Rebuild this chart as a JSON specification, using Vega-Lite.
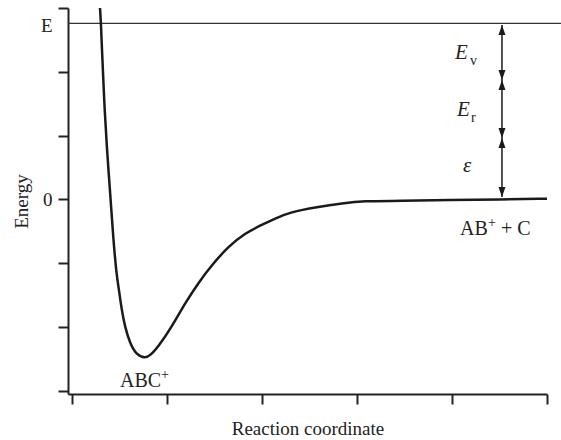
{
  "$schema": "https://vega.github.io/schema/vega-lite/v6.json",
  "width": 479,
  "height": 386,
  "autosize": {"type": "none"},
  "padding": {"left": 68, "top": 8, "right": 14, "bottom": 46},
  "background": "white",
  "config": {
    "view": {"stroke": null},
    "axis": {
      "grid": false,
      "domainColor": "#222",
      "domainWidth": 2,
      "tickColor": "#222",
      "tickWidth": 2,
      "tickSize": 10,
      "labelFont": "Liberation Serif",
      "labelFontSize": 19,
      "labelColor": "#222",
      "titleFont": "Liberation Serif",
      "titleFontSize": 19,
      "titleFontWeight": "normal",
      "titleColor": "#222"
    },
    "text": {"font": "Liberation Serif", "color": "#222"}
  },
  "layer": [
    {
      "data": {"values": [{"x": -0.042, "x2": 5.147, "y": 2.76}]},
      "mark": {"type": "rule", "color": "#333", "strokeWidth": 1.2},
      "encoding": {
        "x": {"field": "x", "type": "quantitative", "scale": {"domain": [-0.042, 5], "nice": false, "zero": false},
          "axis": {"values": [0, 1, 2, 3, 4, 5], "labels": false, "title": "Reaction coordinate", "titlePadding": 14}},
        "x2": {"field": "x2"},
        "y": {"field": "y", "type": "quantitative", "scale": {"domain": [-3.05, 3.0], "nice": false, "zero": false},
          "axis": {
            "values": [-3, -2, -1, 0, 1, 2, 2.72, 3],
            "labelExpr": "datum.value == 0 ? '0' : (datum.value > 2.5 && datum.value < 2.9 ? 'E' : '')",
            "tickColor": {"condition": {"test": "datum.value > 2.5 && datum.value < 2.9", "value": "transparent"}, "value": "#222"},
            "labelPadding": 6,
            "title": "Energy",
            "titlePadding": 9
          }}
      }
    },
    {
      "data": {"values": [
        {"x": 0.295, "y": 3.0},
        {"x": 0.305, "y": 2.76},
        {"x": 0.316, "y": 2.34},
        {"x": 0.337, "y": 1.59},
        {"x": 0.368, "y": 0.77},
        {"x": 0.4, "y": 0.15},
        {"x": 0.435, "y": -0.63},
        {"x": 0.471, "y": -1.21},
        {"x": 0.495, "y": -1.42},
        {"x": 0.523, "y": -1.73},
        {"x": 0.558, "y": -2.0},
        {"x": 0.611, "y": -2.26},
        {"x": 0.681, "y": -2.44},
        {"x": 0.768, "y": -2.49},
        {"x": 0.821, "y": -2.45},
        {"x": 0.908, "y": -2.31},
        {"x": 1.049, "y": -2.0},
        {"x": 1.189, "y": -1.63},
        {"x": 1.329, "y": -1.31},
        {"x": 1.471, "y": -1.03},
        {"x": 1.645, "y": -0.74},
        {"x": 1.821, "y": -0.53},
        {"x": 1.997, "y": -0.4},
        {"x": 2.137, "y": -0.3},
        {"x": 2.295, "y": -0.2},
        {"x": 2.579, "y": -0.12},
        {"x": 2.853, "y": -0.06},
        {"x": 3.063, "y": -0.025},
        {"x": 3.453, "y": -0.025},
        {"x": 3.979, "y": -0.01},
        {"x": 4.505, "y": 0.0},
        {"x": 5.0, "y": 0.01}
      ]},
      "mark": {"type": "line", "color": "#1a1a1a", "strokeWidth": 2.5, "interpolate": "basis"},
      "encoding": {
        "x": {"field": "x", "type": "quantitative"},
        "y": {"field": "y", "type": "quantitative"}
      }
    },
    {
      "data": {"values": [{"x": 4.526, "y": 2.733, "y2": 0.038}]},
      "mark": {"type": "rule", "color": "#1a1a1a", "strokeWidth": 1.5},
      "encoding": {
        "x": {"field": "x", "type": "quantitative"},
        "y": {"field": "y", "type": "quantitative"},
        "y2": {"field": "y2"}
      }
    },
    {
      "data": {"values": [{"x": 4.526, "y": 2.733}, {"x": 4.526, "y": 1.871}, {"x": 4.526, "y": 0.962}]},
      "mark": {"type": "point", "filled": true, "color": "#1a1a1a", "opacity": 1, "size": 400, "strokeWidth": 0, "shape": "M0,0L0.35,1L-0.35,1Z"},
      "encoding": {
        "x": {"field": "x", "type": "quantitative"},
        "y": {"field": "y", "type": "quantitative"}
      }
    },
    {
      "data": {"values": [{"x": 4.526, "y": 1.871}, {"x": 4.526, "y": 0.962}, {"x": 4.526, "y": 0.038}]},
      "mark": {"type": "point", "filled": true, "color": "#1a1a1a", "opacity": 1, "size": 400, "strokeWidth": 0, "shape": "M0,0L0.35,-1L-0.35,-1Z"},
      "encoding": {
        "x": {"field": "x", "type": "quantitative"},
        "y": {"field": "y", "type": "quantitative"}
      }
    },
    {
      "data": {"values": [
        {"x": 0.505, "y": -2.94, "t": "ABC"},
        {"x": 4.084, "y": -0.558, "t": "AB"},
        {"x": 4.515, "y": -0.558, "t": "+ C"}
      ]},
      "mark": {"type": "text", "fontSize": 20, "align": "left", "baseline": "alphabetic"},
      "encoding": {
        "x": {"field": "x", "type": "quantitative"},
        "y": {"field": "y", "type": "quantitative"},
        "text": {"field": "t"}
      }
    },
    {
      "data": {"values": [
        {"x": 0.937, "y": -2.81, "t": "+"},
        {"x": 4.379, "y": -0.43, "t": "+"}
      ]},
      "mark": {"type": "text", "fontSize": 14, "align": "left", "baseline": "alphabetic"},
      "encoding": {
        "x": {"field": "x", "type": "quantitative"},
        "y": {"field": "y", "type": "quantitative"},
        "text": {"field": "t"}
      }
    },
    {
      "data": {"values": [
        {"x": 4.032, "y": 2.2, "t": "E"},
        {"x": 4.053, "y": 1.3, "t": "E"},
        {"x": 4.116, "y": 0.43, "t": "ε"}
      ]},
      "mark": {"type": "text", "fontSize": 21, "fontStyle": "italic", "align": "left", "baseline": "alphabetic"},
      "encoding": {
        "x": {"field": "x", "type": "quantitative"},
        "y": {"field": "y", "type": "quantitative"},
        "text": {"field": "t"}
      }
    },
    {
      "data": {"values": [
        {"x": 4.189, "y": 2.11, "t": "v"},
        {"x": 4.2, "y": 1.21, "t": "r"}
      ]},
      "mark": {"type": "text", "fontSize": 14, "align": "left", "baseline": "alphabetic"},
      "encoding": {
        "x": {"field": "x", "type": "quantitative"},
        "y": {"field": "y", "type": "quantitative"},
        "text": {"field": "t"}
      }
    }
  ]
}
